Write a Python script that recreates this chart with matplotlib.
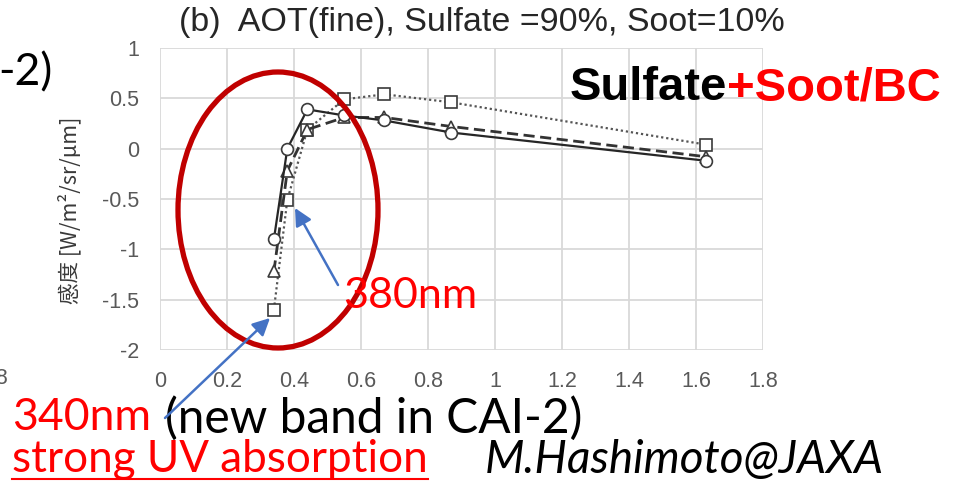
import matplotlib
matplotlib.use("Agg")
import matplotlib.pyplot as plt
from matplotlib.patches import Ellipse, FancyArrowPatch
import numpy as np

############### DATA ###############
wavelength = [0.34, 0.38, 0.44, 0.55, 0.67, 0.87, 1.63]
sens_circle = [-0.90, 0.00, 0.39, 0.33, 0.28, 0.16, -0.12]
sens_triangle = [-1.22, -0.22, 0.19, 0.31, 0.31, 0.22, -0.08]
sens_square = [-1.60, -0.51, 0.19, 0.49, 0.54, 0.46, 0.04]

xticks = [0, 0.2, 0.4, 0.6, 0.8, 1.0, 1.2, 1.4, 1.6, 1.8]
xticklabels = ["0", "0.2", "0.4", "0.6", "0.8", "1", "1.2", "1.4", "1.6", "1.8"]
yticks = [-2, -1.5, -1, -0.5, 0, 0.5, 1]
yticklabels = ["-2", "-1.5", "-1", "-0.5", "0", "0.5", "1"]

title = "(b)  AOT(fine), Sulfate =90%, Soot=10%"
ylabel = "感度 [W/m²/sr/μm]"

W, H = 965, 484
fig = plt.figure(figsize=(W / 100, H / 100), dpi=100)


def fx(px):
    return px / W


def fy(py):
    return 1 - py / H


ax = fig.add_axes([fx(160), fy(350), fx(763 - 160), (350 - 48) / H])

# series
mk = dict(markerfacecolor="white", markeredgecolor="#3a3a3a", markeredgewidth=1.2)
ax.plot(wavelength, sens_circle, "-", color="#262626", lw=1.6, marker="o", ms=8.5, **mk, zorder=4)
ax.plot(wavelength, sens_triangle, color="#333333", lw=2.0, ls=(0, (4, 2)), marker="^", ms=8, **mk, zorder=3)
ax.plot(wavelength, sens_square, color="#555555", lw=1.6, ls=(0, (1, 1.3)), marker="s", ms=8, **mk, zorder=2)

ax.set_xlim(0, 1.8)
ax.set_ylim(-2, 1)
ax.set_xticks(xticks)
ax.set_xticklabels(xticklabels)
ax.set_yticks(yticks)
ax.set_yticklabels(yticklabels)
ax.grid(True, color="#d9d9d9", lw=1.3)
ax.set_axisbelow(True)
for s in ax.spines.values():
    s.set_visible(False)
ax.tick_params(length=0, labelsize=15.5, labelcolor="#595959", pad=15)
for lab in ax.get_xticklabels() + ax.get_yticklabels():
    lab.set_family("Liberation Sans")

fig.text(fx(482), fy(22), title, ha="center", va="center", fontsize=24.5,
         family="Liberation Sans", color="#262626")
fig.text(fx(70), fy(210), ylabel, rotation=90, ha="center", va="center", fontsize=15.5,
         family=["Noto Sans CJK JP", "DejaVu Sans"], color="#3a3a3a")

# red ellipse
ell = Ellipse((fx(278), fy(210)), fx(200), 276 / H, transform=fig.transFigure,
              fill=False, edgecolor="#c00000", lw=3.8, zorder=10)
fig.add_artist(ell)

# blue arrows
arr = dict(arrowstyle="-|>,head_length=0.8,head_width=0.4", color="#4472c4", lw=1.8,
           shrinkA=0, shrinkB=0, mutation_scale=13)
fig.add_artist(FancyArrowPatch((fx(338), fy(285)), (fx(295), fy(208)),
                               transform=fig.transFigure, **arr, zorder=11))
fig.add_artist(FancyArrowPatch((fx(165), fy(418)), (fx(270), fy(318)),
                               transform=fig.transFigure, **arr, zorder=11))

# annotation text
cal = "Lato"
fig.canvas.draw()
r = fig.canvas.get_renderer()


def after(t, gap=0):
    bb = t.get_window_extent(renderer=r)
    return bb.x1 / W + gap


fig.text(fx(343), fy(296), "380nm", ha="left", va="center", fontsize=31, family=cal, color="red", zorder=12)
fig.text(fx(-2), fy(73), "-2)", ha="left", va="center", fontsize=32, family=cal, color="black")
fig.text(fx(8), fy(378), "1.8", ha="right", va="center", fontsize=15.5, family="Liberation Sans", color="#595959")

fig.text(fx(12), fy(418), "340nm", ha="left", va="center", fontsize=32, family=cal, color="red")
fig.text(fx(165), fy(418), "(new band in CAI-2)", ha="left", va="center", fontsize=34.5,
         family=cal, color="black")
t2 = fig.text(fx(12), fy(460), "strong UV absorption", ha="left", va="center", fontsize=31.7,
              family=cal, color="red")
bb = t2.get_window_extent(renderer=r)
fig.add_artist(plt.Line2D([bb.x0 / W, bb.x1 / W], [fy(479), fy(479)], color="red", lw=1.5,
                          transform=fig.transFigure))
fig.text(fx(485), fy(460), "M.Hashimoto@JAXA", ha="left", va="center", fontsize=33, style="italic",
         family=cal, color="black")

t3 = fig.text(fx(570), fy(88), "Sulfate", ha="left", va="center", fontsize=34, weight="bold",
              family="Liberation Sans", color="black")
fig.text(after(t3), fy(88), "+Soot/BC", ha="left", va="center", fontsize=34, weight="bold",
         family="Liberation Sans", color="red")

fig.savefig("out.png", dpi=100)
